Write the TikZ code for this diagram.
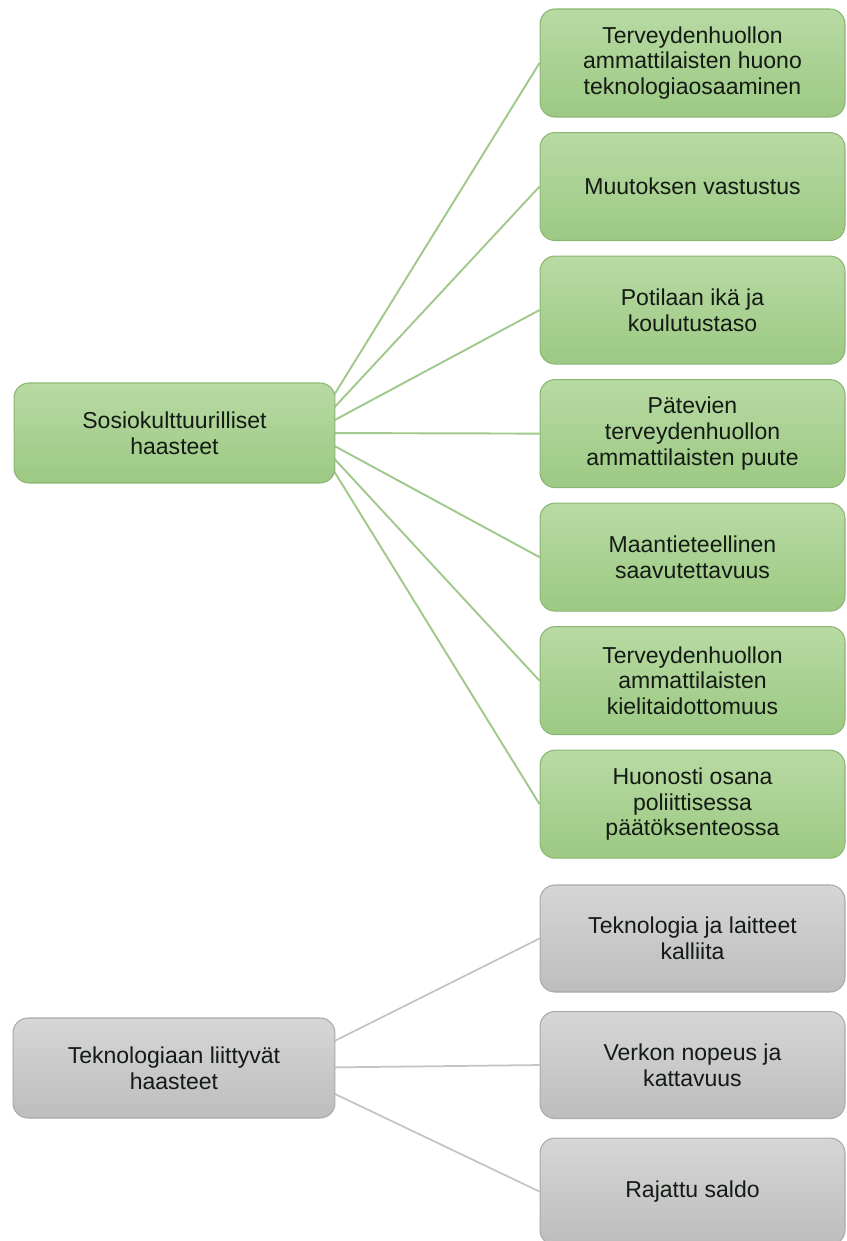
\documentclass[tikz,border=0pt]{standalone}
\usepackage{fontspec}
\setmainfont{Liberation Sans}
\usetikzlibrary{positioning,backgrounds}
\definecolor{SocTop}{HTML}{B8DAA3}
\definecolor{SocBottom}{HTML}{9CC983}
\definecolor{SocEdge}{HTML}{8AB673}
\definecolor{SocLink}{HTML}{A0C98B}
\definecolor{TechTop}{HTML}{D6D6D6}
\definecolor{TechBottom}{HTML}{BDBDBD}
\definecolor{TechEdge}{HTML}{A9A9A9}
\definecolor{TechLink}{HTML}{C4C4C4}
\definecolor{TextDark}{HTML}{141A14}
\tikzset{
  box/.style={rounded corners=0.3cm, align=center, text=TextDark, line width=0.6pt,
    font=\fontsize{13.1}{14.6}\selectfont},
  socbox/.style={box, draw=SocEdge, top color=SocTop, bottom color=SocBottom,
    minimum width=6.1cm, minimum height=2.16cm},
  socroot/.style={socbox, minimum width=6.42cm, minimum height=2cm},
  techbox/.style={box, draw=TechEdge, top color=TechTop, bottom color=TechBottom,
    minimum width=6.1cm, minimum height=2.14cm},
  techroot/.style={techbox, minimum width=6.44cm, minimum height=2cm},
  soclink/.style={draw=SocLink, line width=1.1pt},
  techlink/.style={draw=TechLink, line width=1pt}
}

\begin{document}
\begin{tikzpicture}[x=0.02cm,y=-0.02cm]
  \useasboundingbox (0,0) rectangle (846,1241);
  % sosiokulttuuriset haasteet
  \node[socroot] (soc) at (174.5,433) {Sosiokulttuurilliset\\haasteet};
  \node[socbox] (soc1) at (692.5,63) {Terveydenhuollon\\ammattilaisten huono\\teknologiaosaaminen};
  \node[socbox, below=0.29cm of soc1] (soc2) {Muutoksen vastustus};
  \node[socbox, below=0.29cm of soc2] (soc3) {Potilaan ikä ja\\koulutustaso};
  \node[socbox, below=0.29cm of soc3] (soc4) {Pätevien\\terveydenhuollon\\ammattilaisten puute};
  \node[socbox, below=0.29cm of soc4] (soc5) {Maantieteellinen\\saavutettavuus};
  \node[socbox, below=0.29cm of soc5] (soc6) {Terveydenhuollon\\ammattilaisten\\kielitaidottomuus};
  \node[socbox, below=0.29cm of soc6] (soc7) {Huonosti osana\\poliittisessa\\päätöksenteossa};
  % teknologiaan liittyvät haasteet
  \node[techroot] (tech) at (174,1068) {Teknologiaan liittyvät\\haasteet};
  \node[techbox] (tech1) at (692.5,938.5) {Teknologia ja laitteet\\kalliita};
  \node[techbox, below=0.37cm of tech1] (tech2) {Verkon nopeus ja\\kattavuus};
  \node[techbox, below=0.37cm of tech2] (tech3) {Rajattu saldo};
  % connectors start inside the roots, behind them
  \coordinate (sochub) at ([xshift=-0.5cm]soc.east);
  \coordinate (techhub) at ([xshift=-1.1cm]tech.east);
  \begin{scope}[on background layer]
    \draw[soclink] (sochub) -- (soc1.west);
    \draw[soclink] (sochub) -- (soc2.west);
    \draw[soclink] (sochub) -- (soc3.west);
    \draw[soclink] (sochub) -- (soc4.west);
    \draw[soclink] (sochub) -- (soc5.west);
    \draw[soclink] (sochub) -- (soc6.west);
    \draw[soclink] (sochub) -- (soc7.west);
    \draw[techlink] (techhub) -- (tech1.west);
    \draw[techlink] (techhub) -- (tech2.west);
    \draw[techlink] (techhub) -- (tech3.west);
  \end{scope}
\end{tikzpicture}
\end{document}
